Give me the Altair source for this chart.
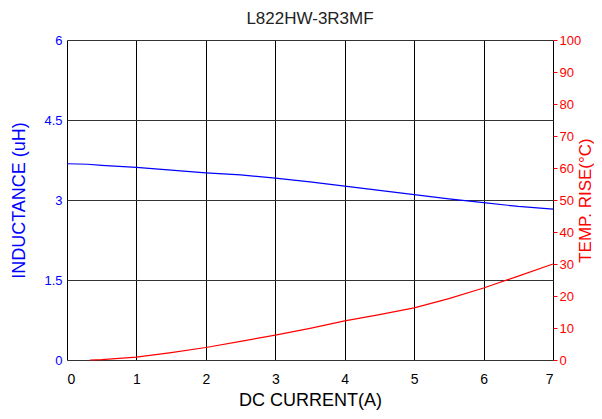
import altair as alt
import pandas as pd

ind_x = [0, 0.3, 0.5, 1, 1.5, 2, 2.5, 3, 3.5, 4, 4.5, 5, 5.5, 6, 6.5, 7]
ind_y = [3.68, 3.67, 3.65, 3.61, 3.56, 3.51, 3.47, 3.41, 3.34, 3.26, 3.18, 3.10, 3.02, 2.95, 2.88, 2.83]

tmp_x = [0.33, 0.5, 0.75, 1, 1.5, 2, 2.5, 3, 3.5, 4, 4.5, 5, 5.5, 6, 6.5, 7]
tmp_y = [0, 0.1, 0.5, 0.9, 2.3, 3.9, 5.8, 7.8, 9.9, 12.2, 14.2, 16.3, 19.2, 22.5, 26.2, 30.0]

x_ticks = [0, 1, 2, 3, 4, 5, 6, 7]
left_ticks = [0, 1.5, 3, 4.5, 6]
right_ticks = [0, 10, 20, 30, 40, 50, 60, 70, 80, 90, 100]

FONT = "Liberation Sans"

ind_df = pd.DataFrame({"x": ind_x, "y": ind_y})
tmp_df = pd.DataFrame({"x": tmp_x, "t": tmp_y})

xenc = alt.X("x:Q", scale=alt.Scale(domain=[0, 7], nice=False),
             axis=alt.Axis(values=x_ticks, format="d", title="DC CURRENT(A)", grid=True,
                           gridColor="black", gridOpacity=1, gridWidth=1,
                           ticks=False, domain=False, labelFontSize=14,
                           labelColor="black", labelPadding=12, labelFont=FONT,
                           titleFont=FONT, titleFontSize=18, titleFontWeight="normal",
                           titleColor="black", titlePadding=5))

ind = alt.Chart(ind_df).mark_line(color="blue", strokeWidth=1.2).encode(
    x=xenc,
    y=alt.Y("y:Q", scale=alt.Scale(domain=[0, 6], nice=False),
            axis=alt.Axis(values=left_ticks, labelExpr="toString(datum.value)",
                          title="INDUCTANCE (uH)", grid=True,
                          gridColor="#333", gridOpacity=1, gridWidth=1,
                          ticks=False, domain=False, labelColor="blue",
                          labelFontSize=13, labelFont=FONT, labelPadding=5,
                          titleColor="blue", titleFont=FONT, titleFontSize=18,
                          titleFontWeight="normal", titlePadding=15)),
)

tmp = alt.Chart(tmp_df).mark_line(color="red", strokeWidth=1.2).encode(
    x=alt.X("x:Q"),
    y=alt.Y("t:Q", scale=alt.Scale(domain=[0, 100], nice=False),
            axis=alt.Axis(values=right_ticks, format="d", orient="right", title="TEMP. RISE(°C)",
                          grid=False, ticks=True, tickColor="red", tickSize=4,
                          domain=False, labelColor="red", labelFontSize=13,
                          labelFont=FONT, labelPadding=2, titleColor="red",
                          titleFont=FONT, titleFontSize=17, titleFontWeight="normal",
                          titleAngle=270, titleBaseline="top", titleX=24, titleY=160)),
)

chart = alt.layer(ind, tmp).resolve_scale(y="independent").properties(
    width=486, height=320,
    title=alt.TitleParams("L822HW-3R3MF", font=FONT, fontSize=17,
                          fontWeight="normal", color="#222", offset=6),
    padding={"left": 59, "top": 32, "right": 41, "bottom": 58},
    autosize=alt.AutoSizeParams(type="none"),
).configure_view(stroke="black", strokeWidth=1.2).configure(background="white")

chart.save("out.html", embed_options={"renderer": "svg", "actions": False})
